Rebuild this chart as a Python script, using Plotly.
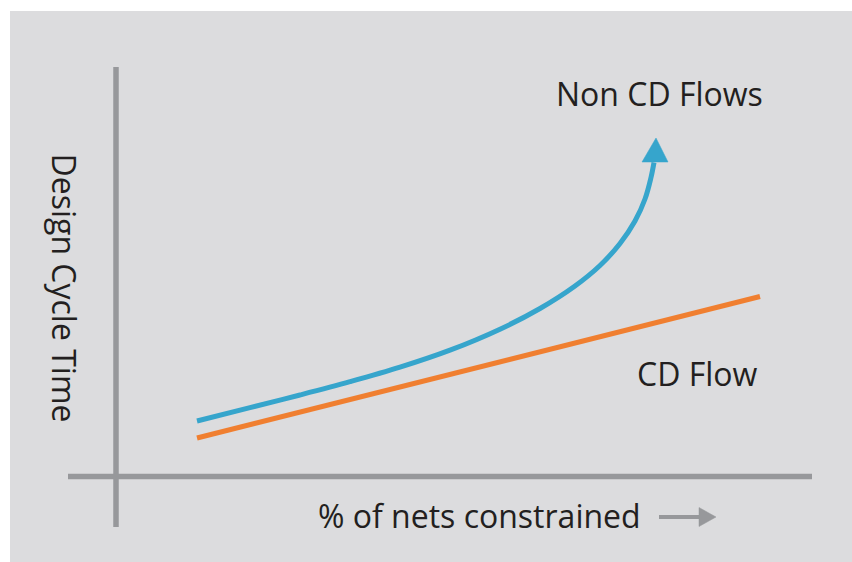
import plotly.graph_objects as go

# Data (x: % of nets constrained, y: design cycle time; arbitrary units)
non_cd_x = [81, 134, 184, 234, 284, 334, 384, 424, 459, 484, 504, 519, 529, 535, 538]
non_cd_y = [55.5, 68.8, 81.5, 94.8, 109.3, 126.3, 147.3, 168, 190.5, 211, 233, 255.5, 277.5, 299, 314]
cd_x = [81, 644]
cd_y = [38.5, 180]

labels = ["Non CD Flows", "CD Flow", "% of nets constrained", "Design Cycle Time"]

BG = "#dcdcde"
AXIS = "#97989b"
BLUE = "#36a5cc"
ORANGE = "#f07f30"
TEXT = "#231f20"
FONT = "Open Sans"
FS = 32

# pixel -> data helpers for layout decoration
OX, OY = 116, 476.5
def px(x):
    return x - OX
def py(y):
    return OY - y

fig = go.Figure()

fig.add_trace(go.Scatter(x=cd_x, y=cd_y, mode="lines",
                         line=dict(color=ORANGE, width=5), hoverinfo="skip"))
fig.add_trace(go.Scatter(x=non_cd_x, y=non_cd_y, mode="lines",
                         line=dict(color=BLUE, width=5, shape="spline", smoothing=1.0),
                         hoverinfo="skip"))
# arrow head on top of the Non CD curve (base sits on the curve's last point)
bx, by = non_cd_x[-1] + 1, non_cd_y[-1] + 0.5
hx = [bx - 13, bx + 1, bx + 13, bx - 13]
hy = [by, by + 24, by, by]
fig.add_trace(go.Scatter(x=hx, y=hy, mode="lines", fill="toself", fillcolor=BLUE,
                         line=dict(color=BLUE, width=0.5), hoverinfo="skip"))

# small grey arrow next to x label
fig.add_trace(go.Scatter(x=[px(659), px(701)], y=[py(517), py(517)], mode="lines",
                         line=dict(color=AXIS, width=4), hoverinfo="skip"))
fig.add_trace(go.Scatter(x=[px(699), px(716), px(699), px(699)],
                         y=[py(507.5), py(517), py(526.5), py(507.5)],
                         mode="lines", fill="toself", fillcolor=AXIS,
                         line=dict(color=AXIS, width=0.5), hoverinfo="skip"))

shapes = [
    dict(type="line", x0=0, x1=0, y0=py(527), y1=py(67),
         line=dict(color=AXIS, width=5.5), layer="below"),
    dict(type="line", x0=px(68), x1=px(812), y0=0, y1=0,
         line=dict(color=AXIS, width=5.5), layer="below"),
]

annotations = [
    dict(x=px(554), y=py(93), text=labels[0], xanchor="left", yanchor="middle",
         showarrow=False, font=dict(family=FONT, size=FS, color=TEXT)),
    dict(x=px(635), y=py(373), text=labels[1], xanchor="left", yanchor="middle",
         showarrow=False, font=dict(family=FONT, size=FS, color=TEXT)),
    dict(x=px(316), y=py(515), text=labels[2], xanchor="left", yanchor="middle",
         showarrow=False, font=dict(family=FONT, size=FS, color=TEXT)),
    dict(x=px(64), y=py(287.5), text=labels[3], xanchor="center", yanchor="middle",
         textangle=90, showarrow=False, font=dict(family=FONT, size=FS, color=TEXT)),
]

fig.update_layout(
    width=852, height=562,
    margin=dict(l=10, t=11, r=0, b=0),
    paper_bgcolor="white", plot_bgcolor=BG,
    showlegend=False,
    xaxis=dict(range=[10 - OX, 852 - OX], visible=False, fixedrange=True),
    yaxis=dict(range=[OY - 562, OY - 11], visible=False, fixedrange=True),
    shapes=shapes, annotations=annotations,
)

fig.write_html("out.html", config={"displayModeBar": False},
               post_script="document.body.style.margin='0';document.body.style.overflow='hidden';")
